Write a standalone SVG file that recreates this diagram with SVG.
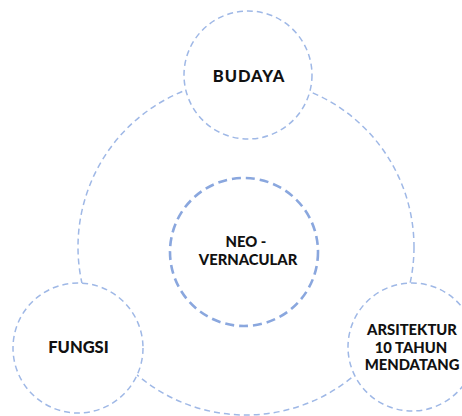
<svg xmlns="http://www.w3.org/2000/svg" width="462" height="416" viewBox="0 0 462 416">
<style>
.thin{fill:#ffffff;stroke:#9fb8e6;stroke-width:1.5;stroke-dasharray:6 4}
.ring{fill:none;stroke:#9fb8e6;stroke-width:1.5;stroke-dasharray:6 4}
.core{fill:#ffffff;stroke:#8aa7de;stroke-width:2.6;stroke-dasharray:9 5}
.lbl{font-family:Lato,"Liberation Sans",sans-serif;font-weight:900;font-size:16.5px;fill:#111111;text-anchor:middle}
.sm{font-size:14.8px}
</style>
<rect width="462" height="416" fill="#ffffff"/>
<g id="connectors">
<circle class="ring" cx="246" cy="247" r="168"/>
</g>
<g id="budaya">
<circle class="thin" cx="248" cy="75" r="64"/>
<text class="lbl" x="249" y="82" letter-spacing="0.9">BUDAYA</text>
</g>
<g id="neo-vernacular">
<circle class="core" cx="244" cy="252" r="74"/>
<text class="lbl sm" x="246" y="247">NEO -</text>
<text class="lbl sm" x="248" y="265">VERNACULAR</text>
</g>
<g id="fungsi">
<circle class="thin" cx="78" cy="348" r="65"/>
<text class="lbl" x="78.5" y="353">FUNGSI</text>
</g>
<g id="arsitektur">
<circle class="thin" cx="412" cy="347" r="64"/>
<text class="lbl sm" x="412" y="335">ARSITEKTUR</text>
<text class="lbl sm" x="411" y="352.5">10 TAHUN</text>
<text class="lbl sm" x="412" y="370">MENDATANG</text>
</g>
</svg>
